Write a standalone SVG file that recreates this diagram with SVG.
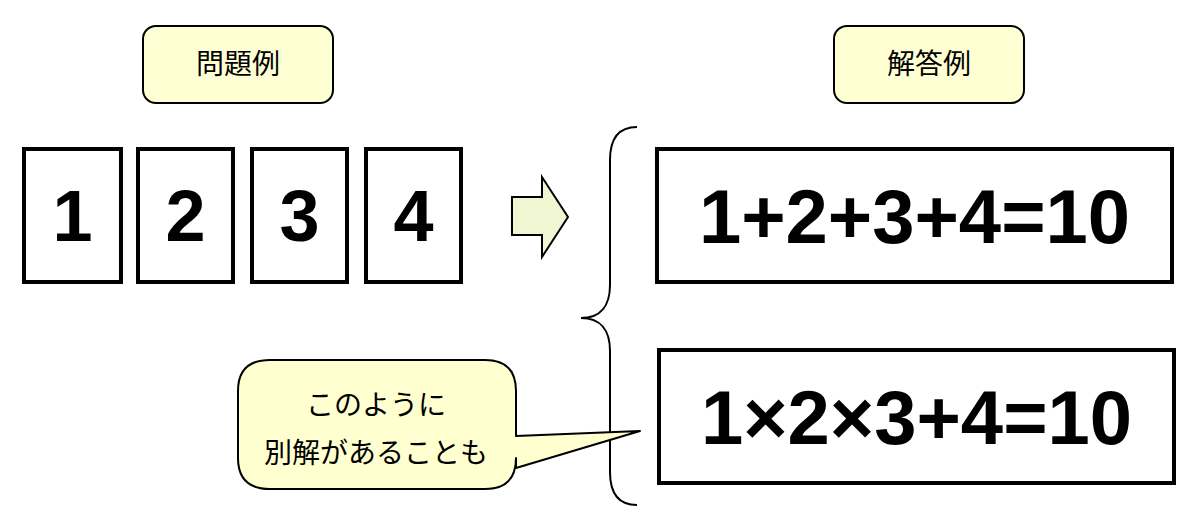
<svg xmlns="http://www.w3.org/2000/svg" width="1200" height="529" viewBox="0 0 1200 529">
<style>
.lbl{fill:#FFFFD4;stroke:#000;stroke-width:2}
.card{fill:#fff;stroke:#000;stroke-width:4}
.num{font-family:"Liberation Sans",Arial,sans-serif;font-weight:bold;font-size:72px;text-anchor:middle;fill:#000}
.eq{font-family:"Liberation Sans",Arial,sans-serif;font-weight:bold;font-size:76px;text-anchor:middle;fill:#000}
.jp{font-family:"Noto Sans CJK JP","Noto Sans",sans-serif;font-size:28px;text-anchor:middle;fill:#000}
</style>
<rect width="1200" height="529" fill="#fff"/>
<g id="label-problem">
<rect class="lbl" x="143" y="26" width="190" height="77" rx="13"/>
<text class="jp" x="238" y="74">問題例</text>
</g>
<g id="label-answer">
<rect class="lbl" x="834" y="26" width="190" height="77" rx="13"/>
<text class="jp" x="929" y="74">解答例</text>
</g>
<g id="card1"><rect class="card" x="24" y="149" width="97" height="133"/><text class="num" x="72.5" y="241">1</text></g>
<g id="card2"><rect class="card" x="138" y="149" width="95" height="133"/><text class="num" x="185.5" y="241">2</text></g>
<g id="card3"><rect class="card" x="252" y="149" width="95" height="133"/><text class="num" x="299.5" y="241">3</text></g>
<g id="card4"><rect class="card" x="366" y="149" width="95" height="133"/><text class="num" x="413.5" y="241">4</text></g>
<g id="arrow">
<path d="M512,197 L542,197 L542,177 L568,217 L542,257 L542,235 L512,235 Z" fill="#F0F5D2" stroke="#000" stroke-width="2" stroke-linejoin="miter"/>
</g>
<g id="connectors">
<path d="M637,127 C617,127 610,140 610,160 L610,285 C610,305 601,318 581,318 C601,318 610,331 610,351 L610,472 C610,492 617,505 637,505" fill="none" stroke="#000" stroke-width="2"/>
</g>
<g id="answer1">
<rect class="card" x="657" y="149" width="515" height="133"/>
<text class="eq" x="914.5" y="243">1+2+3+4=10</text>
</g>
<g id="answer2">
<rect class="card" x="659" y="350" width="515" height="133"/>
<text class="eq" x="916.5" y="444">1×2×3+4=10</text>
</g>
<g id="callout">
<path d="M270,360 L485,360 Q516,360 516,391 L516,436 L640,431 L516,468 L516,458 Q516,489 485,489 L270,489 Q238,489 238,458 L238,391 Q238,360 270,360 Z" fill="#FFFFD0" stroke="#000" stroke-width="2" stroke-linejoin="round"/>
<text class="jp" x="376" y="415">このように</text>
<text class="jp" x="376" y="463">別解があることも</text>
</g>
</svg>
